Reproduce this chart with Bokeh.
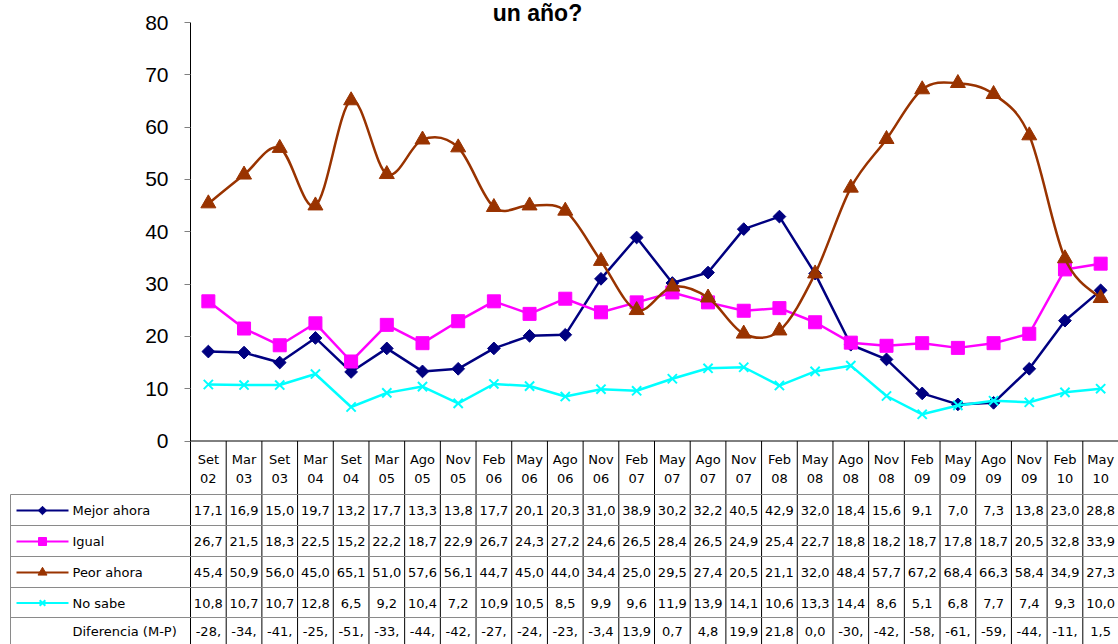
import numpy as np
from bokeh.plotting import figure
from bokeh.models import Range1d, LinearAxis, FixedTicker
from bokeh.core.properties import value
from bokeh.embed import file_html
from bokeh.resources import INLINE

categories = ["Set 02", "Mar 03", "Set 03", "Mar 04", "Set 04", "Mar 05", "Ago 05", "Nov 05",
              "Feb 06", "May 06", "Ago 06", "Nov 06", "Feb 07", "May 07", "Ago 07", "Nov 07",
              "Feb 08", "May 08", "Ago 08", "Nov 08", "Feb 09", "May 09", "Ago 09", "Nov 09",
              "Feb 10", "May 10"]
mejor = [17.1, 16.9, 15.0, 19.7, 13.2, 17.7, 13.3, 13.8, 17.7, 20.1, 20.3, 31.0, 38.9, 30.2,
         32.2, 40.5, 42.9, 32.0, 18.4, 15.6, 9.1, 7.0, 7.3, 13.8, 23.0, 28.8]
igual = [26.7, 21.5, 18.3, 22.5, 15.2, 22.2, 18.7, 22.9, 26.7, 24.3, 27.2, 24.6, 26.5, 28.4,
         26.5, 24.9, 25.4, 22.7, 18.8, 18.2, 18.7, 17.8, 18.7, 20.5, 32.8, 33.9]
peor = [45.4, 50.9, 56.0, 45.0, 65.1, 51.0, 57.6, 56.1, 44.7, 45.0, 44.0, 34.4, 25.0, 29.5,
        27.4, 20.5, 21.1, 32.0, 48.4, 57.7, 67.2, 68.4, 66.3, 58.4, 34.9, 27.3]
no_sabe = [10.8, 10.7, 10.7, 12.8, 6.5, 9.2, 10.4, 7.2, 10.9, 10.5, 8.5, 9.9, 9.6, 11.9,
           13.9, 14.1, 10.6, 13.3, 14.4, 8.6, 5.1, 6.8, 7.7, 7.4, 9.3, 10.0]
diferencia_labels = ["-28,", "-34,", "-41,", "-25,", "-51,", "-33,", "-44,", "-42,", "-27,",
                     "-24,", "-23,", "-3,4", "13,9", "0,7", "4,8", "19,9", "21,8", "0,0",
                     "-30,", "-42,", "-58,", "-61,", "-59,", "-44,", "-11,", "1,5"]
series_names = ["Mejor ahora", "Igual", "Peor ahora", "No sabe"]
y_ticks = [0, 10, 20, 30, 40, 50, 60, 70, 80]
title_text = "un año?"

# ---- layout helpers (screen px -> data coords) ----
W, H = 1118, 644
SX = 928.0 / 26.0
SY = 418.5 / 80.0
def X(px):
    return (px - 190.0) / SX
def Y(py):
    return (440.5 - py) / SY

NAVY, MAG, BROWN, CYAN = "#000080", "#FF00FF", "#993300", "#00FFFF"
TFONT = value("DejaVu Sans")

p = figure(width=W, height=H, output_backend="svg", toolbar_location=None,
           x_range=Range1d(X(0), X(W)), y_range=Range1d(Y(H), Y(0)),
           x_axis_location=None, y_axis_location=None, min_border=0,
           outline_line_color=None, background_fill_color="white",
           border_fill_color="white")
p.xgrid.visible = False
p.ygrid.visible = False

yaxis = LinearAxis(ticker=FixedTicker(ticks=y_ticks), fixed_location=0, bounds=(0, 80),
                   major_tick_in=0, major_tick_out=6, minor_tick_in=0, minor_tick_out=0,
                   major_tick_line_color="#808080", axis_line_color="black",
                   major_label_text_font="Liberation Sans", major_label_text_font_size="21px",
                   major_label_standoff=16, major_label_text_color="black")
p.add_layout(yaxis, "left")

n = len(categories)
idx = np.arange(n)
xc = idx + 0.5

# ---- table grid ----
bounds_x = np.arange(n + 1, dtype=float)
p.segment(x0=bounds_x[1:], y0=[Y(440.5)] * n, x1=bounds_x[1:], y1=[Y(H)] * n,
          line_color="black", line_width=1)
p.segment(x0=[0], y0=[Y(440.5)], x1=[0], y1=[Y(H)], line_color="black", line_width=1)
row_lines = [494, 525, 556, 587, 617]
p.segment(x0=[X(10)] * len(row_lines), y0=[Y(r) for r in row_lines],
          x1=[X(W)] * len(row_lines), y1=[Y(r) for r in row_lines],
          line_color="#8a8a8a", line_width=1)
p.segment(x0=[X(10)], y0=[Y(494)], x1=[X(10)], y1=[Y(H)], line_color="#8a8a8a", line_width=1)
p.segment(x0=[0], y0=[0], x1=[n], y1=[0], line_color="black", line_width=1)

# header
cat_top = [c.split(" ")[0] for c in categories]
cat_bot = [c.split(" ")[1] for c in categories]
p.text(x=xc, y=[Y(459)] * n, text=cat_top, text_font=TFONT, text_font_size="13px",
       text_align="center", text_baseline="middle", text_color="black")
p.text(x=xc, y=[Y(478)] * n, text=cat_bot, text_font=TFONT, text_font_size="13px",
       text_align="center", text_baseline="middle", text_color="black")

def fmt(v):
    return f"{v:.1f}".replace(".", ",")

row_centers = [510, 541, 572, 602.5, 631]
for vals, yc in zip([mejor, igual, peor, no_sabe], row_centers[:4]):
    p.text(x=xc, y=[Y(yc)] * n, text=[fmt(v) for v in vals], text_font=TFONT,
           text_font_size="13px", text_align="center", text_baseline="middle",
           text_color="black")
p.text(x=xc, y=[Y(row_centers[4])] * n, text=diferencia_labels, text_font=TFONT,
       text_font_size="13px", text_align="center", text_baseline="middle", text_color="black")

# legend column
colors = [NAVY, MAG, BROWN, CYAN]
for name, col, yc in zip(series_names, colors, row_centers[:4]):
    p.segment(x0=[X(16)], y0=[Y(yc)], x1=[X(68)], y1=[Y(yc)], line_color=col, line_width=2)
p.scatter(x=[X(42)], y=[Y(row_centers[0])], marker="square", angle=np.pi / 4, size=6,
          fill_color=NAVY, line_color=NAVY)
p.scatter(x=[X(42)], y=[Y(row_centers[1])], marker="square", size=8, fill_color=MAG,
          line_color=MAG)
p.scatter(x=[X(42)], y=[Y(row_centers[2])], marker="triangle", size=9, fill_color=BROWN,
          line_color=BROWN)
p.scatter(x=[X(42)], y=[Y(row_centers[3])], marker="x", size=8, line_color=CYAN, line_width=2)
p.text(x=[X(72)] * 5, y=[Y(c) for c in row_centers], text=series_names + ["Diferencia (M-P)"],
       text_font=TFONT, text_font_size="13px", text_align="left", text_baseline="middle",
       text_color="black")

# ---- series ----
# Mejor ahora
p.line(xc, mejor, line_color=NAVY, line_width=2.5)
p.scatter(xc, mejor, marker="square", angle=np.pi / 4, size=9, fill_color=NAVY, line_color=NAVY)
# Igual
p.line(xc, igual, line_color=MAG, line_width=2.5)
p.scatter(xc, igual, marker="square", size=13, fill_color=MAG, line_color=MAG)
# Peor ahora (smoothed)
px_ = np.asarray(xc, dtype=float)
py_ = np.asarray(peor, dtype=float)
pxe = np.concatenate([[px_[0]], px_, [px_[-1]]])
pye = np.concatenate([[py_[0]], py_, [py_[-1]]])
x0 = px_[:-1]; y0 = py_[:-1]; x1 = px_[1:]; y1 = py_[1:]
cx0 = x0 + (pxe[2:-1] - pxe[:-3]) / 6.0
cy0 = y0 + (pye[2:-1] - pye[:-3]) / 6.0
cx1 = x1 - (pxe[3:] - pxe[1:-2]) / 6.0
cy1 = y1 - (pye[3:] - pye[1:-2]) / 6.0
p.bezier(x0=x0, y0=y0, x1=x1, y1=y1, cx0=cx0, cy0=cy0, cx1=cx1, cy1=cy1,
         line_color=BROWN, line_width=2.5)
p.scatter(xc, peor, marker="triangle", size=15, fill_color=BROWN, line_color=BROWN)
# No sabe
p.line(xc, no_sabe, line_color=CYAN, line_width=2.5)
p.scatter(xc, no_sabe, marker="x", size=13, line_color=CYAN, line_width=2)

# title (cut at top)
p.text(x=[X(537)], y=[Y(12)], text=[title_text], text_font=value("Liberation Sans"),
       text_font_size="23px", text_font_style="bold", text_align="center",
       text_baseline="middle", text_color="black")

open("out.html", "w").write(file_html(p, INLINE))
